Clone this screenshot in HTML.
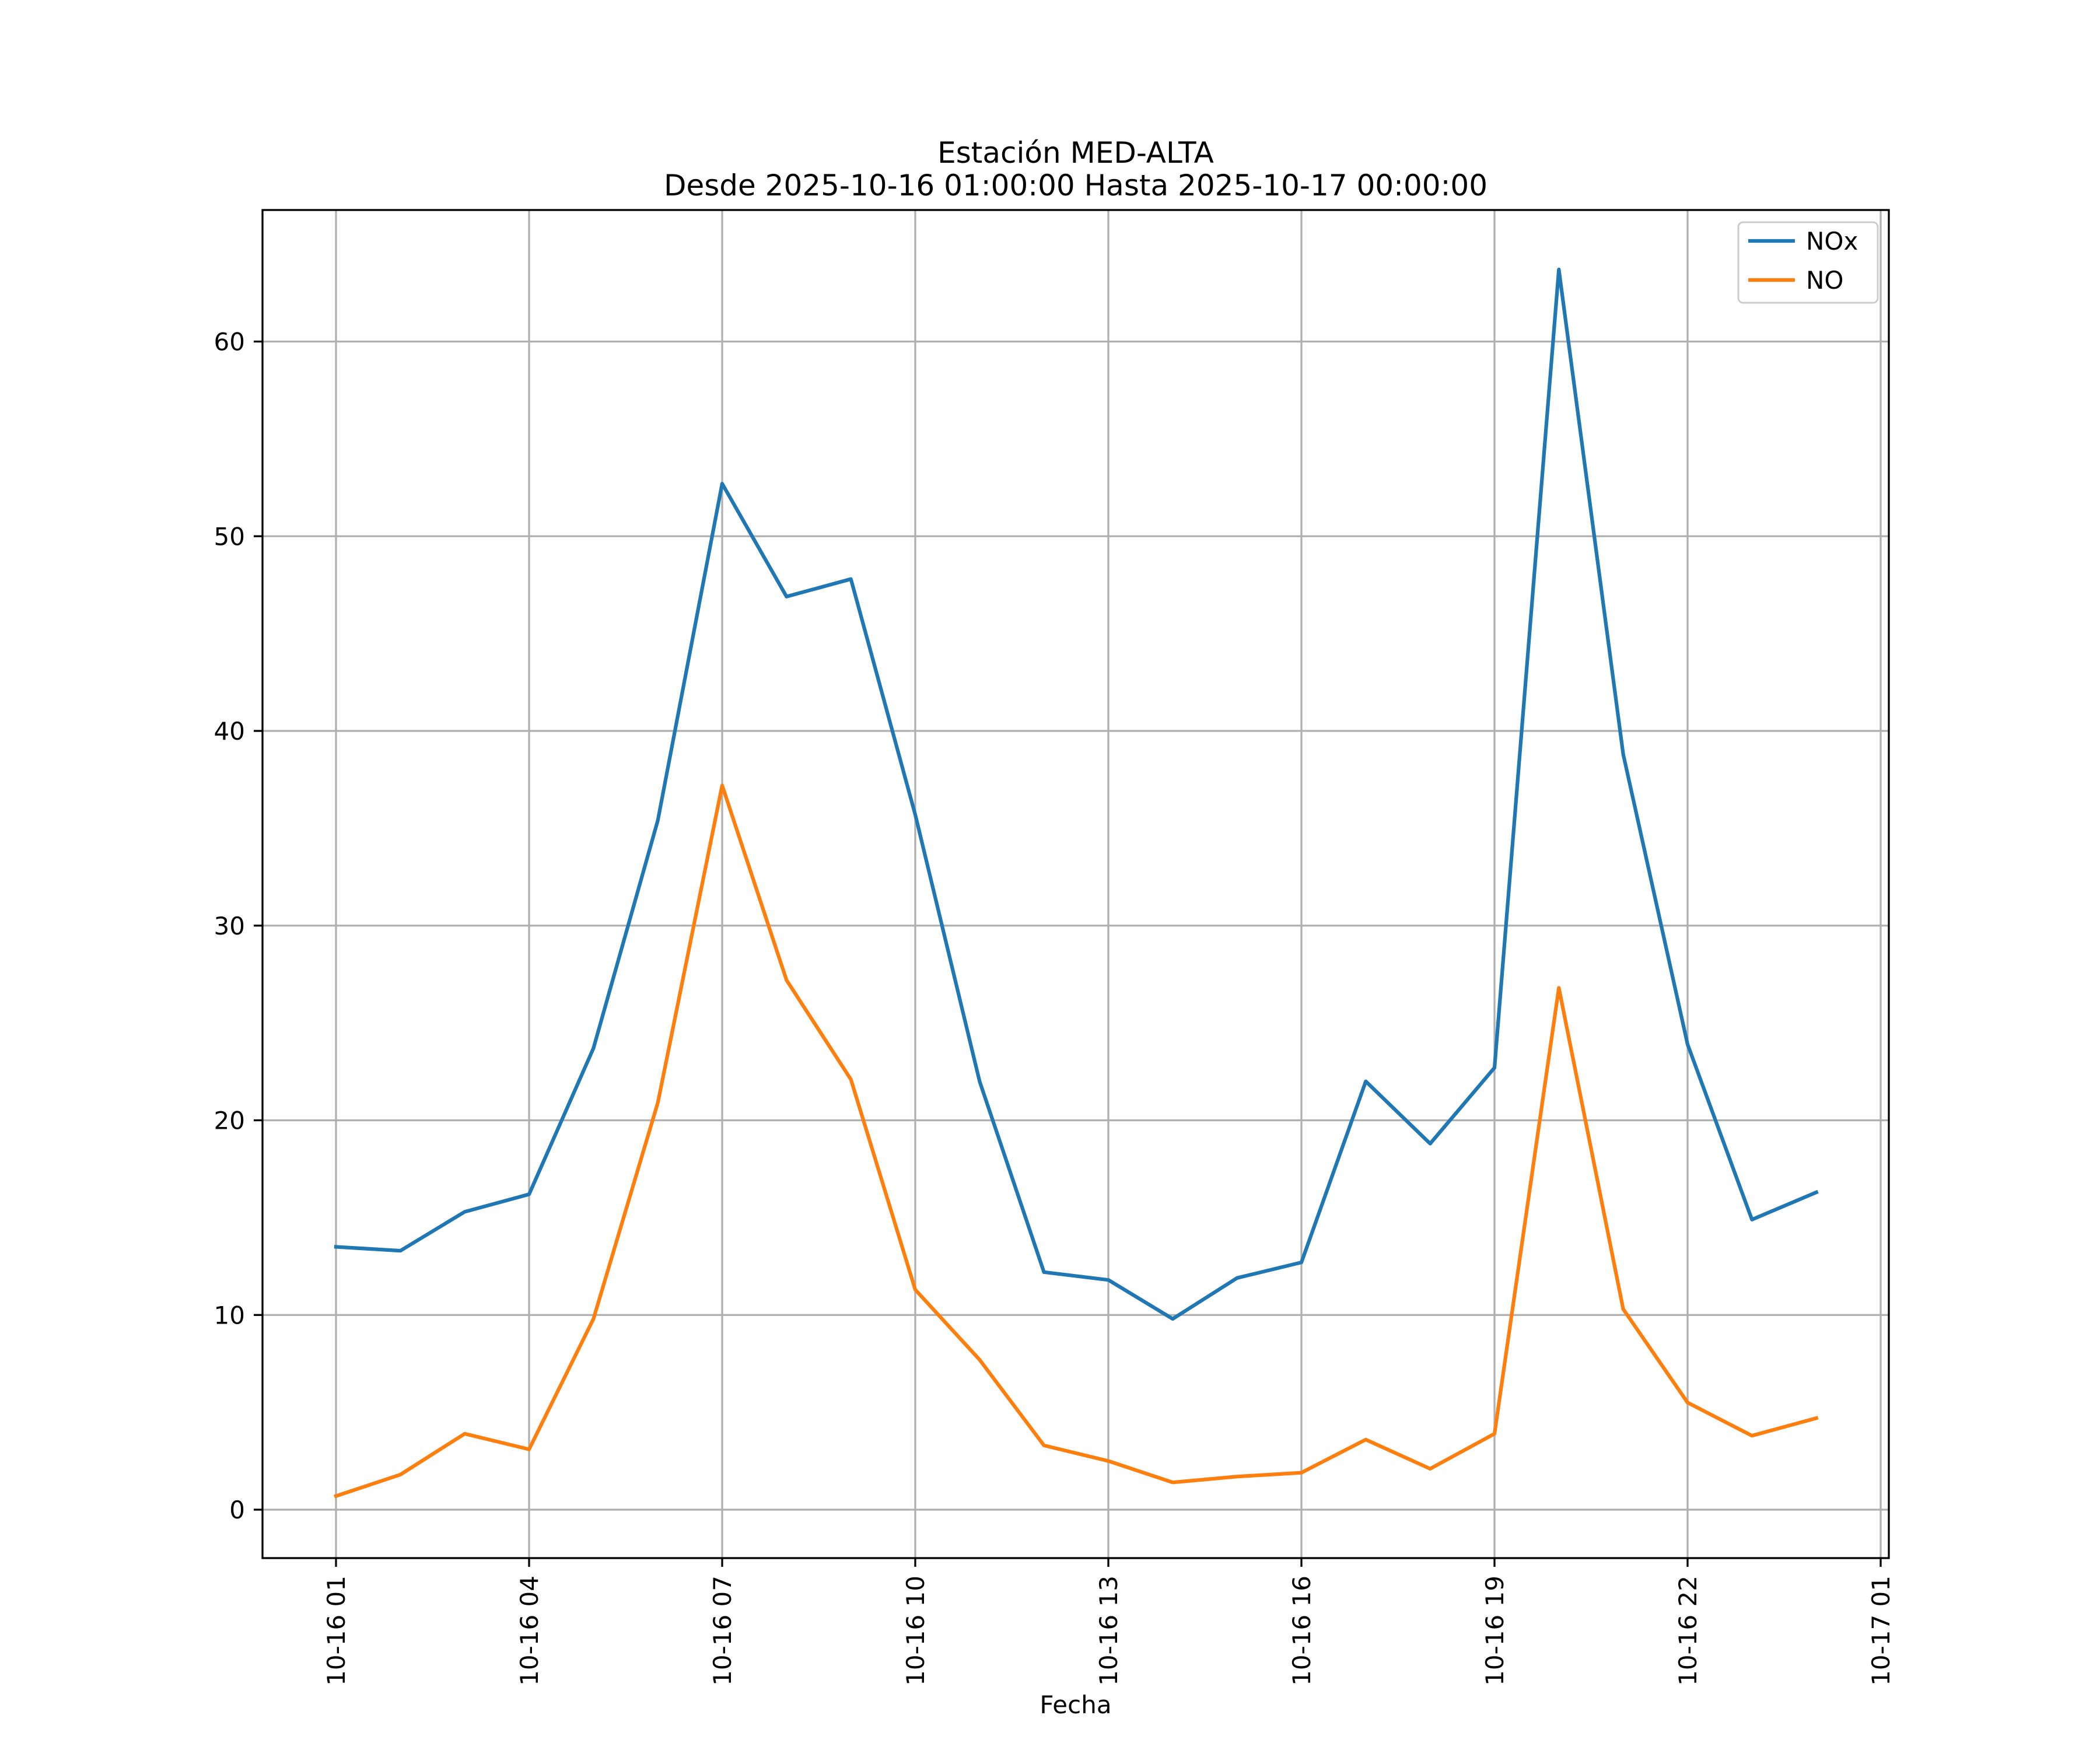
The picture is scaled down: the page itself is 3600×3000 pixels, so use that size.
<!DOCTYPE html>
<html><head><meta charset="utf-8"><style>
html,body{margin:0;padding:0;background:#fff;}
svg{display:block;font-family:"DejaVu Sans","Liberation Sans",sans-serif;}
</style></head><body>
<svg id="chart" width="3600" height="3000" viewBox="0 0 3600 3000" xmlns="http://www.w3.org/2000/svg">
<rect width="3600" height="3000" fill="#fff"/>
<text x="1844" y="279" font-size="50" text-anchor="middle">Estación MED-ALTA</text>
<text x="1844" y="335" font-size="50" text-anchor="middle">Desde 2025-10-16 01:00:00 Hasta 2025-10-17 00:00:00</text>
<g id="grid"></g>
<g id="series"></g>
<rect x="450" y="360" width="2788" height="2311" fill="none" stroke="#000" stroke-width="3.3"/>
<g id="axes"></g>
<text x="1844" y="2937" font-size="42" text-anchor="middle">Fecha</text>
<g>
<rect x="2980" y="381" width="239" height="138" rx="8" fill="#fff" fill-opacity="0.8" stroke="#ccc" stroke-width="3"/>
<line x1="2997" y1="413" x2="3077" y2="413" stroke="#1f77b4" stroke-width="6.25"/>
<text x="3096" y="428" font-size="42">NOx</text>
<line x1="2997" y1="480" x2="3077" y2="480" stroke="#ff7f0e" stroke-width="6.25"/>
<text x="3096" y="495" font-size="42">NO</text>
</g>
</svg>
<script>
const hours = [1,2,3,4,5,6,7,8,9,10,11,12,13,14,15,16,17,18,19,20,21,22,23,24];
const noxValues = [13.5,13.3,15.3,16.2,23.7,35.4,52.7,46.9,47.8,35.7,22.0,12.2,11.8,9.8,11.9,12.7,22.0,18.8,22.7,63.7,38.8,23.9,14.9,16.3];
const noValues = [0.7,1.8,3.9,3.1,9.8,20.9,37.2,27.2,22.1,11.3,7.7,3.3,2.5,1.4,1.7,1.9,3.6,2.1,3.9,26.8,10.3,5.5,3.8,4.7];
const yTicks = [0,10,20,30,40,50,60];
const xTickHours = [1,4,7,10,13,16,19,22,25];
const xTickLabels = ["10-16 01","10-16 04","10-16 07","10-16 10","10-16 13","10-16 16","10-16 19","10-16 22","10-17 01"];

const NS="http://www.w3.org/2000/svg";
const PL=450,PR=3238,PT=360,PB=2671;
function xScale(h){return 576+(h-1)*(3224-576)/24;}
function yScale(v){return 2588-v*(2588-585.5)/60;}
function mk(tag,attrs,parent){const e=document.createElementNS(NS,tag);for(const k in attrs)e.setAttribute(k,attrs[k]);parent.appendChild(e);return e;}
const grid=document.getElementById('grid'),axes=document.getElementById('axes'),series=document.getElementById('series');
yTicks.forEach(v=>{
  const y=yScale(v);
  const g=mk('line',{x1:PL,x2:PR,y1:y,y2:y,stroke:'#b0b0b0','stroke-width':3.3},grid);
  
  
  const t=mk('line',{x1:PL-15,x2:PL,y1:y,y2:y,stroke:'#000','stroke-width':3.3},axes);
  
  
  const l=mk('text',{x:PL-30,y:y+15,'font-size':42,'text-anchor':'end'},axes);
  l.textContent=v;
  
  
});
xTickHours.forEach((h,i)=>{
  const x=xScale(h);
  const g=mk('line',{x1:x,x2:x,y1:PT,y2:PB,stroke:'#b0b0b0','stroke-width':3.3},grid);
  
  
  const t=mk('line',{x1:x,x2:x,y1:PB,y2:PB+15,stroke:'#000','stroke-width':3.3},axes);
  
  
  const l=mk('text',{x:0,y:0,'font-size':42,'text-anchor':'end',transform:`translate(${x+15},${PB+30}) rotate(-90)`},axes);
  l.textContent=xTickLabels[i];
  
  
});
function drawLine(vals,color,name){
  const pts=vals.map((v,i)=>xScale(hours[i])+','+yScale(v)).join(' ');
  const p=mk('polyline',{points:pts,fill:'none',stroke:color,'stroke-width':6.25,'stroke-linejoin':'round','stroke-linecap':'square'},series);
  
  
}
drawLine(noxValues,'#1f77b4','nox-line');
drawLine(noValues,'#ff7f0e','no-line');
</script>
</body></html>
